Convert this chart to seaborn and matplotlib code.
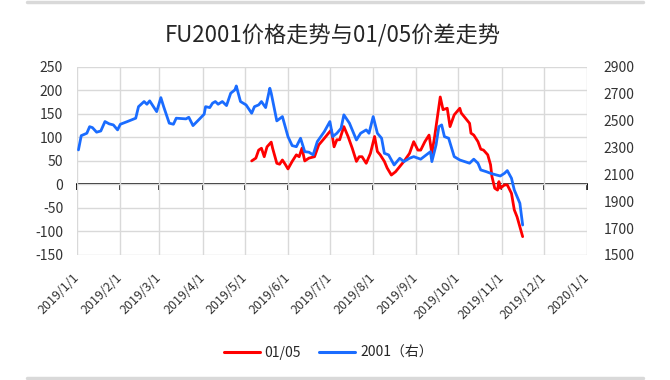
import matplotlib
matplotlib.use("Agg")
import matplotlib.pyplot as plt
import matplotlib.dates as mdates
from matplotlib.lines import Line2D
import seaborn as sns
import pandas as pd
import numpy as np

# 2001 contract price (right axis)
fu_dates = [
    "2019-01-02", "2019-01-04", "2019-01-08", "2019-01-10", "2019-01-12", "2019-01-15",
    "2019-01-18", "2019-01-21", "2019-01-24", "2019-01-27", "2019-01-30", "2019-02-01",
    "2019-02-06", "2019-02-12", "2019-02-14", "2019-02-18", "2019-02-20", "2019-02-22",
    "2019-02-27", "2019-03-02", "2019-03-04", "2019-03-08", "2019-03-11", "2019-03-13",
    "2019-03-20", "2019-03-22", "2019-03-25", "2019-03-29", "2019-04-02", "2019-04-03",
    "2019-04-06", "2019-04-08", "2019-04-10", "2019-04-12", "2019-04-15", "2019-04-18",
    "2019-04-21", "2019-04-24", "2019-04-25", "2019-04-28", "2019-05-02", "2019-05-06",
    "2019-05-08", "2019-05-11", "2019-05-13", "2019-05-16", "2019-05-19", "2019-05-20",
    "2019-05-24", "2019-05-28", "2019-06-01", "2019-06-04", "2019-06-07", "2019-06-10",
    "2019-06-13", "2019-06-16", "2019-06-19", "2019-06-22", "2019-06-27", "2019-07-01",
    "2019-07-03", "2019-07-06", "2019-07-09", "2019-07-11", "2019-07-15", "2019-07-20",
    "2019-07-23", "2019-07-27", "2019-07-29", "2019-08-01", "2019-08-04", "2019-08-07",
    "2019-08-09", "2019-08-12", "2019-08-16", "2019-08-20", "2019-08-23", "2019-08-27",
    "2019-08-30", "2019-09-04", "2019-09-08", "2019-09-11", "2019-09-12", "2019-09-15",
    "2019-09-17", "2019-09-19", "2019-09-21", "2019-09-24", "2019-09-28", "2019-10-02",
    "2019-10-09", "2019-10-12", "2019-10-15", "2019-10-17", "2019-10-21", "2019-10-24",
    "2019-10-28", "2019-10-31", "2019-11-03", "2019-11-05", "2019-11-08", "2019-11-10",
    "2019-11-14", "2019-11-16",
]
fu_price = [
    2282, 2388, 2406, 2455, 2448, 2414, 2423, 2493, 2476, 2468, 2431, 2473,
    2493, 2518, 2604, 2642, 2622, 2647, 2567, 2671, 2604, 2481, 2473, 2518,
    2513, 2525, 2463, 2505, 2548, 2604, 2597, 2630, 2642, 2622, 2642, 2612,
    2704, 2729, 2758, 2642, 2617, 2555, 2604, 2617, 2642, 2597, 2741, 2704,
    2498, 2530, 2381, 2314, 2306, 2369, 2269, 2265, 2245, 2344, 2418, 2493,
    2381, 2406, 2443, 2543, 2481, 2356, 2406, 2431, 2406, 2530, 2406, 2369,
    2257, 2245, 2170, 2220, 2195, 2220, 2232, 2213, 2245, 2269, 2195, 2319,
    2455, 2468, 2381, 2369, 2232, 2207, 2183, 2213, 2183, 2133, 2120, 2108,
    2096, 2088, 2108, 2128, 2071, 1984, 1885, 1723,
]

# 01/05 spread (left axis)
spread_dates = [
    "2019-05-06", "2019-05-09", "2019-05-11", "2019-05-13", "2019-05-15", "2019-05-17",
    "2019-05-20", "2019-05-21", "2019-05-24", "2019-05-26", "2019-05-28", "2019-05-30",
    "2019-06-01", "2019-06-04", "2019-06-07", "2019-06-09", "2019-06-11", "2019-06-13",
    "2019-06-16", "2019-06-20", "2019-06-23", "2019-06-27", "2019-06-30", "2019-07-02",
    "2019-07-04", "2019-07-06", "2019-07-08", "2019-07-11", "2019-07-14", "2019-07-17",
    "2019-07-20", "2019-07-22", "2019-07-24", "2019-07-27", "2019-07-30", "2019-08-02",
    "2019-08-04", "2019-08-06", "2019-08-09", "2019-08-11", "2019-08-14", "2019-08-17",
    "2019-08-20", "2019-08-23", "2019-08-27", "2019-08-30", "2019-09-02", "2019-09-04",
    "2019-09-07", "2019-09-10", "2019-09-12", "2019-09-14", "2019-09-16", "2019-09-18",
    "2019-09-20", "2019-09-23", "2019-09-25", "2019-09-28", "2019-10-02", "2019-10-03",
    "2019-10-06", "2019-10-09", "2019-10-10", "2019-10-12", "2019-10-15", "2019-10-17",
    "2019-10-19", "2019-10-22", "2019-10-24", "2019-10-25", "2019-10-27", "2019-10-29",
    "2019-10-30", "2019-10-31", "2019-11-03", "2019-11-05", "2019-11-08", "2019-11-10",
    "2019-11-12", "2019-11-14", "2019-11-16",
]
spread = [
    50, 56, 73, 77, 59, 80, 90, 77, 45, 43, 52, 43,
    33, 49, 63, 59, 77, 50, 56, 59, 84, 98, 109, 116,
    80, 95, 95, 123, 102, 77, 49, 59, 59, 45, 66, 102,
    70, 63, 49, 35, 20, 27, 38, 49, 66, 91, 73, 73,
    91, 105, 66, 102, 144, 186, 159, 162, 123, 148, 162, 152,
    141, 130, 109, 105, 91, 75, 73, 63, 42, 17, -8, -12,
    6, -8, -1, -1, -19, -54, -69, -90, -111,
]

title = "FU2001价格走势与01/05价差走势"
label_spread = "01/05"
label_fu = "2001（右）"

month_ticks = pd.date_range("2019-01-01", "2020-01-01", freq="MS")
month_labels = [f"{d.year}/{d.month}/{d.day}" for d in month_ticks]

sns.set_style("white")
plt.rcParams['font.family'] = ['Noto Sans CJK SC', 'DejaVu Sans']
plt.rcParams['axes.unicode_minus'] = False

red = "#ff0000"
blue = "#1a6cff"
grid_c = "#d9d9d9"
txt_c = "#333333"
fs = 10

df_fu = pd.DataFrame({"date": pd.to_datetime(fu_dates), "price": fu_price})
df_sp = pd.DataFrame({"date": pd.to_datetime(spread_dates), "spread": spread})

fig = plt.figure(figsize=(6.7, 3.8), dpi=100)
ax = fig.add_axes([0.115, 0.329, 0.761, 0.495])

sns.lineplot(data=df_sp, x="date", y="spread", ax=ax, color=red, linewidth=2.0, legend=False)
ax2 = ax.twinx()
sns.lineplot(data=df_fu, x="date", y="price", ax=ax2, color=blue, linewidth=2.0, legend=False)

lo, hi = -150, 250
ax.set_ylim(lo, hi)
ax.set_yticks(np.arange(lo, hi + 1, 50))
ax2.set_ylim(1500, 2900)
ax2.set_yticks(np.arange(1500, 2901, 200))
ax.set_xlim(month_ticks[0], month_ticks[-1])

ax.grid(True, color=grid_c, linewidth=1.0)
ax2.grid(False)
for a in (ax, ax2):
    for s in a.spines.values():
        s.set_visible(False)
    a.set_xlabel("")
    a.set_ylabel("")

ax.set_xticks(month_ticks)
ax.set_xticklabels(month_labels, rotation=45, ha="right", va="center",
                   rotation_mode="anchor", fontsize=9, color=txt_c)
ax.tick_params(axis="x", length=0, pad=15)
ax.tick_params(axis="y", length=0, pad=10, labelsize=fs, labelcolor=txt_c)
ax2.tick_params(axis="y", length=0, pad=12, labelsize=fs, labelcolor=txt_c)

# category axis crossing at zero, with tick marks
sec = ax.secondary_xaxis((0 - lo) / (hi - lo))
sec.set_xticks(mdates.date2num(month_ticks))
sec.set_xticklabels([])
sec.tick_params(direction="out", length=4, width=1.2, color="black")
sec.spines["bottom"].set_color("black")
sec.spines["bottom"].set_linewidth(1.2)

fig.text(0.497, 0.905, title, ha="center", va="center", fontsize=16, color="#262626")

handles = [Line2D([], [], color=red, linewidth=2.2), Line2D([], [], color=blue, linewidth=2.2)]
fig.legend(handles, [label_spread, label_fu], loc="center", bbox_to_anchor=(0.49, 0.071),
           ncol=2, frameon=False, fontsize=fs, handlelength=2.6, handletextpad=0.35,
           columnspacing=1.3)

for yy in (0.995, 0.005):
    fig.add_artist(Line2D([0.04, 0.96], [yy, yy], color=grid_c, linewidth=2.5,
                          transform=fig.transFigure))

fig.savefig("out.png", dpi=100)
